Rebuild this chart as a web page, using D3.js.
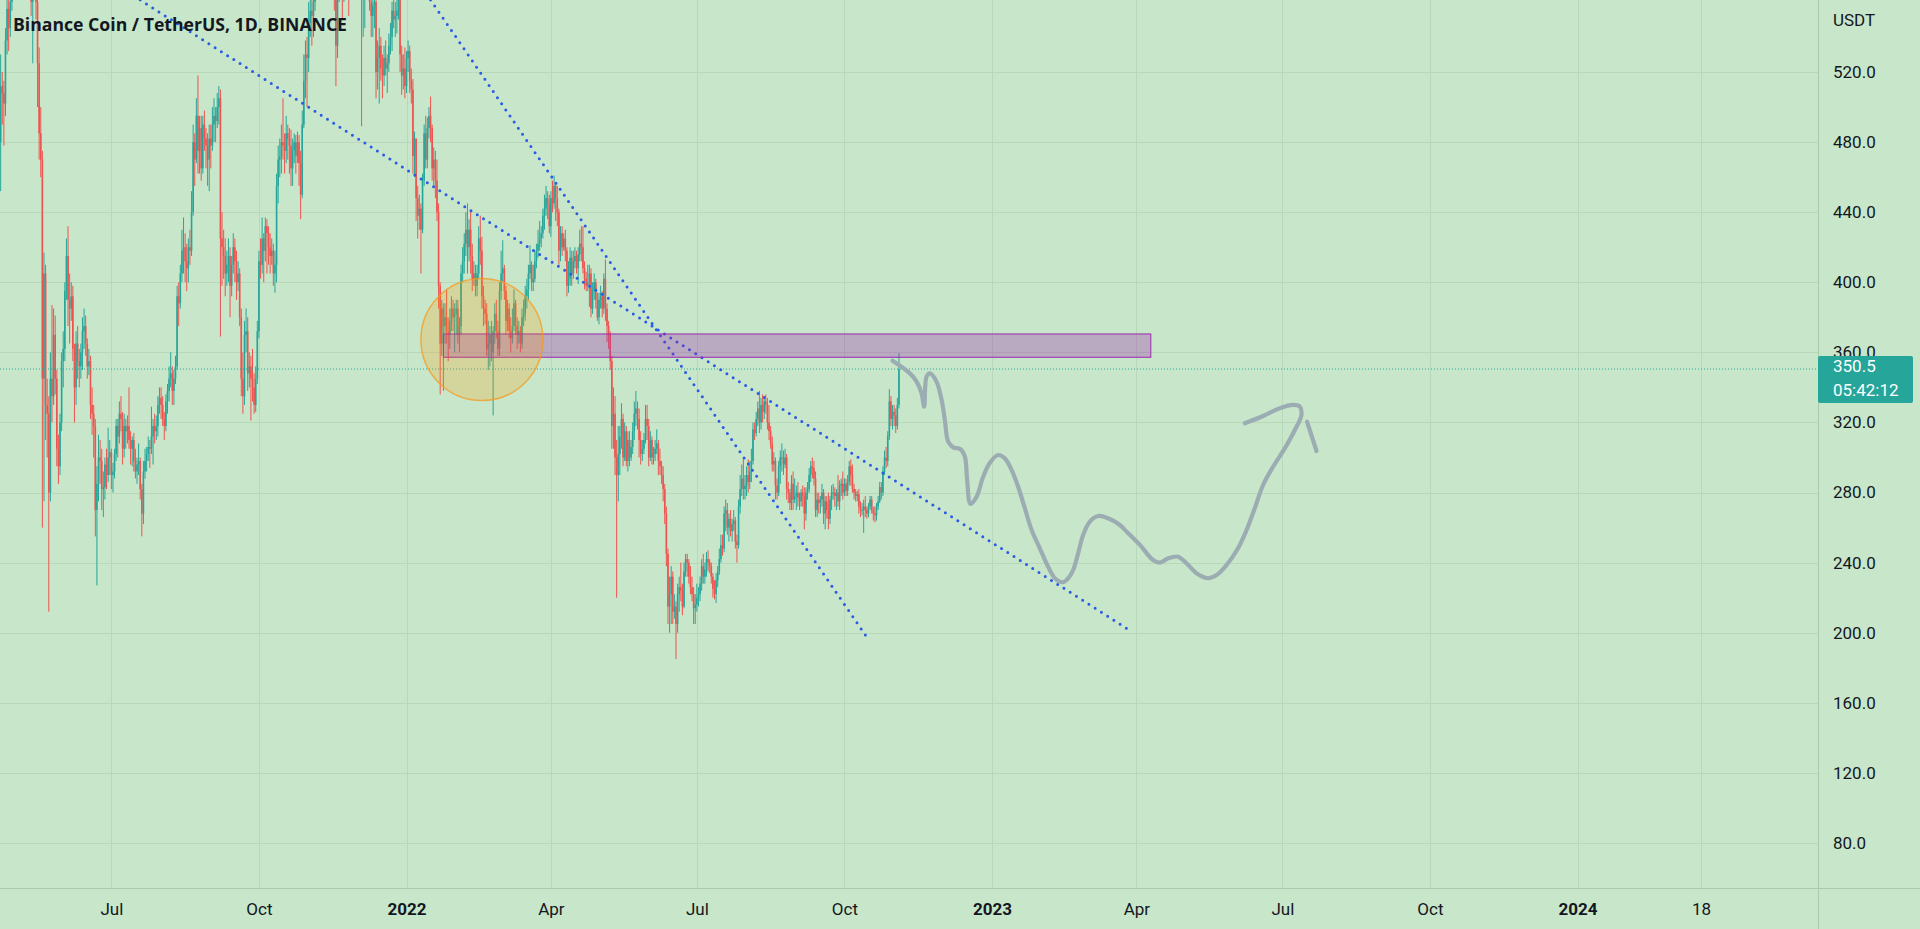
<!DOCTYPE html>
<html>
<head>
<meta charset="utf-8">
<script src="https://cdn.jsdelivr.net/npm/d3@7"></script>
<style>
html, body { margin: 0; padding: 0; background: #c8e6c9; overflow: hidden; }
svg { display: block; }
text { font-family: Roboto, "Noto Sans", sans-serif; }
</style>
</head>
<body>
<script>
// BNB/USDT daily candles, open = previous close
var firstDay = "2021-04-23";
var firstOpen = 480;
var closes = [
  512,508,502,538,556,545,560,602,
  612,598,660,615,655,640,650,668,660,610,640,560,575,615,560,525,485,470,345,405,330,325,280,345,335,370,345,305,295,320,355,
  362,395,415,390,385,392,362,340,365,355,352,360,372,375,365,352,355,330,325,318,270,285,300,298,282,283,296,290,300,303,
  290,292,302,318,312,325,322,305,318,315,318,310,305,310,298,292,296,298,282,268,292,298,302,306,305,312,318,315,318,330,334,
  330,322,318,332,338,345,348,338,345,352,392,388,405,418,420,412,408,420,418,440,480,470,495,475,488,465,490,482,478,470,482,
  478,490,495,492,500,505,425,420,415,405,410,415,398,410,420,412,400,405,380,345,335,370,372,348,352,345,340,330,345,372,
  412,410,425,418,432,428,420,415,418,405,410,455,470,472,480,478,475,485,482,478,465,475,480,472,480,468,450,490,515,530,528,
  548,555,552,560,600,620,648,640,635,610,625,640,645,648,635,590,572,535,565,590,580,572,590,582,602,575,592,615,628,608,
  620,605,575,565,570,580,585,580,560,552,558,560,520,528,535,522,518,528,522,525,535,540,555,550,552,555,562,530,518,522,512,
  528,532,515,510,472,482,448,438,442,430,458,485,470,488,495,488,465,470,458,440,398,365,385,375,380,372,370,378,385,380,382,
  385,370,375,405,412,422,430,420,430,415,402,405,398,405,425,418,392,385,382,362,365,370,360,372,382,372,362,395,
  405,408,395,378,385,372,368,375,388,375,370,372,365,380,382,392,396,405,410,400,402,412,418,422,425,428,438,442,448,445,432,
  448,445,455,448,440,418,428,420,425,418,398,402,414,405,412,415,408,416,422,420,408,402,398,400,405,385,395,400,390,380,
  390,392,385,402,385,375,370,355,318,325,300,290,302,312,322,300,315,298,310,300,306,315,325,328,322,310,302,305,310,322,318,
  300,310,300,302,305,308,298,295,290,282,268,245,215,222,232,212,215,205,222,226,224,215,235,242,240,232,226,222,214,216,
  220,222,228,238,232,236,242,240,238,232,225,222,230,235,242,250,248,268,270,260,265,258,262,264,252,250,272,282,288,282,284,
  290,286,292,298,316,314,322,328,320,330,326,332,330,320,315,308,296,298,284,280,295,300,300,296,300,282,280,274,285,276,278,
  280,277,275,280,278,268,280,282,290,295,294,288,270,276,274,276,280,268,275,270,265,276,280,280,278,280,275,284,285,280,
  285,281,286,295,290,282,280,278,279,272,270,270,272,270,268,272,276,270,268,267,272,275,283,280,292,300,298,312,332,322,326,
  324,318,330,350.5
];
var highs = [
  530,520,515,545,565,568,575,610,
  625,615,668,665,660,662,660,675,680,692,650,650,600,625,620,580,534,500,475,417,410,345,335,360,387,385,381,350,313,325,360,
  372,400,425,432,405,400,398,365,372,375,362,365,380,385,381,368,362,358,340,330,322,295,313,310,305,292,300,305,317,310,
  305,297,305,322,322,332,335,326,325,322,324,340,315,312,314,305,300,308,300,285,298,305,306,312,310,329,322,325,324,335,340,
  340,335,326,336,342,352,360,352,350,358,398,400,410,430,437,428,422,425,430,452,490,485,505,518,495,495,495,498,488,485,490,
  490,500,505,500,508,512,510,440,430,425,418,425,420,415,428,425,418,412,408,385,360,378,385,380,360,358,362,348,352,378,
  418,425,437,428,437,436,432,428,425,422,418,462,478,482,490,505,485,495,490,488,487,482,485,484,486,484,475,498,530,538,540,
  560,570,565,568,610,628,655,660,650,670,635,648,655,660,655,640,595,580,575,598,598,590,598,598,610,612,605,622,640,635,
  640,625,610,580,580,585,598,592,585,568,565,570,562,538,545,540,530,535,538,530,542,548,560,565,560,562,575,565,535,530,534,
  532,538,535,522,516,486,482,455,450,445,462,490,495,494,500,506,490,477,475,470,445,400,390,388,388,396,380,385,392,390,388,
  390,390,380,410,420,428,440,445,436,441,422,412,410,410,432,438,426,398,390,388,378,375,378,375,388,390,378,400,
  418,424,410,398,390,388,380,385,396,390,380,378,375,385,390,398,402,410,421,412,410,418,422,430,435,432,442,450,455,452,450,
  452,458,461,457,455,442,432,432,428,430,420,412,420,418,418,420,418,420,430,432,432,412,406,410,410,408,400,405,402,394,
  394,398,395,405,413,388,378,372,358,340,335,310,318,318,331,325,320,318,315,315,310,320,332,338,332,328,315,310,314,330,330,
  322,315,312,306,310,316,310,305,298,295,285,272,248,232,238,235,222,218,228,232,240,228,240,245,245,242,238,232,226,222,
  228,226,232,242,245,240,246,247,242,240,234,230,234,238,248,256,256,272,276,274,268,270,265,270,266,256,276,290,296,299,290,
  295,299,298,305,320,320,326,332,338,334,336,335,336,334,330,318,312,303,300,288,298,304,308,304,305,302,286,282,290,292,288,
  284,286,280,282,284,283,283,286,294,298,300,298,292,280,280,278,285,282,278,278,280,278,284,285,283,282,290,287,288,292,
  288,288,290,298,299,296,285,282,281,282,275,274,276,278,272,274,278,278,272,272,274,278,286,286,295,304,306,315,339,335,330,
  330,328,334,359.5
];
var lows = [
  452,490,478,495,530,532,540,555,
  595,585,596,600,605,625,620,640,630,590,590,552,525,570,550,500,470,460,260,275,310,300,212,275,320,330,336,295,285,290,315,
  340,355,390,375,365,378,355,320,330,345,340,345,350,362,358,345,347,322,313,300,255,227,275,285,270,266,276,282,286,290,
  282,280,288,298,300,308,315,296,300,305,308,305,296,295,292,288,285,290,276,255,262,288,292,298,294,302,296,308,310,312,325,
  322,318,310,315,325,332,340,330,330,342,350,375,385,400,405,400,395,400,410,415,438,455,468,462,462,458,462,475,465,455,452,
  465,475,480,480,488,490,369,398,402,392,398,400,380,392,405,400,390,395,375,335,325,330,360,338,340,321,332,325,326,342,
  368,402,405,400,412,405,410,405,410,398,394,400,445,460,462,470,462,468,470,462,455,455,468,462,468,455,436,448,488,505,500,
  520,540,535,540,555,595,615,625,620,590,600,610,630,635,625,575,555,512,528,560,570,550,560,568,575,552,570,580,608,600,
  600,590,565,489,540,545,570,565,555,540,540,545,505,510,502,515,505,512,518,508,520,530,532,545,540,542,550,520,507,510,505,
  508,520,508,502,462,460,435,425,430,405,428,455,465,465,482,480,458,455,448,435,385,336,358,338,365,365,355,362,372,372,360,
  370,365,360,370,400,405,415,405,412,405,395,398,392,392,402,410,385,375,376,358,350,352,355,324,365,368,358,358,
  390,400,390,370,372,368,360,365,372,370,362,365,360,362,375,378,385,390,402,395,395,400,408,414,418,420,425,430,438,436,428,
  426,440,442,435,432,410,412,415,418,412,392,394,398,398,402,408,405,399,412,412,405,396,395,395,386,380,382,390,385,378,
  376,385,380,382,378,366,362,350,305,305,290,220,275,290,305,295,298,295,292,295,298,302,310,318,316,300,296,298,302,308,310,
  295,298,296,296,298,302,290,290,285,275,262,238,205,200,205,205,208,185,200,212,218,210,214,232,232,228,222,218,205,205,
  212,215,218,224,228,228,232,235,234,228,220,219,217,226,233,240,244,246,258,256,252,255,252,258,248,240,248,268,278,276,276,
  278,280,282,286,296,310,312,318,314,316,320,322,325,316,310,305,292,292,276,276,278,285,292,290,294,276,274,270,270,270,274,
  270,272,270,272,272,259,264,276,280,286,288,284,266,266,268,268,272,262,259,265,259,262,270,276,272,270,272,270,278,276,
  278,278,278,284,284,280,276,275,275,268,266,267,257,266,265,266,270,268,264,263,264,270,274,276,278,290,294,295,310,318,316,
  318,314,316,328
];

var priceTicks = [80, 120, 160, 200, 240, 280, 320, 360, 400, 440, 480, 520];
var timeTicks = ["2021-07-01","2021-10-01","2022-01-01","2022-04-01","2022-07-01","2022-10-01",
                 "2023-01-01","2023-04-01","2023-07-01","2023-10-01","2024-01-01","2024-03-18"];
var timeLabels = ["Jul","Oct","2022","Apr","Jul","Oct","2023","Apr","Jul","Oct","2024","18"];
var countdown = "05:42:12";

// drawings (dates / prices)
var zoneDates = ["2022-01-24", "2023-04-10"];
var zonePrices = [357.2, 370.5];
var circleDate = "2022-02-17";
var circlePrice = 367.3;
var trend1Dates = ["2021-07-19", "2023-03-27"];
var trend1Prices = [561.1, 201.9];
var trend2Dates = ["2022-01-16", "2022-10-16"];
var trend2Prices = [561.1, 196.1];
// freehand brush: days after 2022-01-01, price
var brushDays = [303.0,313.8,318.0,321.1,322.7,324.2,326.3,330.4,333.6,335.6,337.7,340.8,345.4,348.1,349.5,351.6,355.4,359.5,363.7,368.8,373.0,377.2,381.3,385.5,389.7,394.8,400.0,404.2,409.0,412.5,415.6,418.7,421.8,426.0,431.2,437.4,444.7,448.9,457.2,465.4,469.6,474.8,481.0,486.3,492.5,499.7,505.0,511.2,518.4,523.7,528.8,534.0,540.2,547.5,553.8,557.9,556.9,552.7,544.4,534.0,522.6];
var brushPrices = [355.2,348.0,343.3,336.6,329.0,346.1,348.0,343.3,332.8,321.4,309.0,305.8,304.7,300.5,287.2,273.5,277.6,289.0,297.0,301.4,299.5,292.9,283.3,271.0,258.6,248.2,237.7,231.1,228.8,231.1,235.8,245.3,255.8,263.4,266.6,265.3,261.5,257.7,250.1,241.5,240.0,242.5,243.4,239.6,233.9,231.1,232.9,238.6,248.2,258.6,271.0,284.3,294.7,305.2,315.7,324.3,329.0,330.0,328.1,323.7,319.5];
var brush2Days = [561.4, 567.3];
var brush2Prices = [320.4, 303.7];

var width = 1920, height = 929;
var plotRight = 1818, plotBottom = 888;
var upColor = "#26a69a", downColor = "#ef5350", textColor = "#131722";

var parse = d3.utcParse("%Y-%m-%d");
var base = parse("2022-01-01");
var dayToDate = function(d) { return new Date(base.getTime() + d * 864e5); };

var x = d3.scaleUtc().domain([base, parse("2023-01-01")]).range([406.5, 992]);
var y = d3.scaleLinear().domain([80, 520]).range([843, 72]);

var start = parse(firstDay);
var candles = closes.map(function(c, i) {
    var o = i === 0 ? firstOpen : closes[i - 1];
    return {
        date: d3.utcDay.offset(start, i),
        open: o, close: c,
        high: Math.max(highs[i], o, c),
        low: Math.min(lows[i], o, c)
    };
});

var svg = d3.select("body").append("svg").attr("width", width).attr("height", height);
svg.append("rect").attr("width", width).attr("height", height).attr("fill", "#c8e6c9");
svg.append("clipPath").attr("id", "plot").append("rect")
    .attr("width", plotRight).attr("height", plotBottom);

// grid
var grid = svg.append("g").attr("stroke", "#b8d8b9").attr("stroke-width", 1).attr("shape-rendering", "crispEdges");
grid.selectAll("line.h").data(priceTicks).enter().append("line")
    .attr("x1", 0).attr("x2", plotRight)
    .attr("y1", function(d) { return Math.round(y(d)) + 0.5; })
    .attr("y2", function(d) { return Math.round(y(d)) + 0.5; });
grid.selectAll("line.v").data(timeTicks).enter().append("line")
    .attr("y1", 0).attr("y2", plotBottom)
    .attr("x1", function(d) { return Math.round(x(parse(d))) + 0.5; })
    .attr("x2", function(d) { return Math.round(x(parse(d))) + 0.5; });

var plot = svg.append("g").attr("clip-path", "url(#plot)");

// candles
var cg = plot.append("g");
cg.selectAll("rect.wick").data(candles).enter().append("rect")
    .attr("x", function(d) { return x(d.date) - 0.5; })
    .attr("width", 1)
    .attr("y", function(d) { return y(d.high); })
    .attr("height", function(d) { return Math.max(1, y(d.low) - y(d.high)); })
    .attr("fill", function(d) { return d.close >= d.open ? upColor : downColor; });
cg.selectAll("rect.body").data(candles).enter().append("rect")
    .attr("x", function(d) { return x(d.date) - 0.8; })
    .attr("width", 1.6)
    .attr("y", function(d) { return y(Math.max(d.open, d.close)); })
    .attr("height", function(d) { return Math.max(1, Math.abs(y(d.open) - y(d.close))); })
    .attr("fill", function(d) { return d.close >= d.open ? upColor : downColor; });

// last price line
var last = candles[candles.length - 1].close;
plot.append("line")
    .attr("x1", 0).attr("x2", plotRight)
    .attr("y1", y(last)).attr("y2", y(last))
    .attr("stroke", upColor).attr("stroke-width", 1).attr("stroke-dasharray", "1 2");

// trend lines (dotted)
[[trend1Dates, trend1Prices], [trend2Dates, trend2Prices]].forEach(function(t) {
    plot.append("line")
        .attr("x1", x(parse(t[0][0]))).attr("y1", y(t[1][0]))
        .attr("x2", x(parse(t[0][1]))).attr("y2", y(t[1][1]))
        .attr("stroke", "#2a5be6").attr("stroke-width", 3)
        .attr("stroke-linecap", "round").attr("stroke-dasharray", "0 7.4");
});

// zone rectangle
plot.append("rect")
    .attr("x", x(parse(zoneDates[0])))
    .attr("width", x(parse(zoneDates[1])) - x(parse(zoneDates[0])))
    .attr("y", y(zonePrices[1]))
    .attr("height", y(zonePrices[0]) - y(zonePrices[1]))
    .attr("fill", "rgba(156,39,176,0.32)")
    .attr("stroke", "#9c27b0").attr("stroke-width", 1);

// circle
plot.append("circle")
    .attr("cx", x(parse(circleDate))).attr("cy", y(circlePrice)).attr("r", 61)
    .attr("fill", "rgba(255,152,0,0.22)")
    .attr("stroke", "rgba(245,155,30,0.75)").attr("stroke-width", 1.5);

// freehand brush
var brushLine = d3.line()
    .x(function(d) { return x(dayToDate(d[0])); })
    .y(function(d) { return y(d[1]); })
    .curve(d3.curveCatmullRom.alpha(0.5));
[[brushDays, brushPrices], [brush2Days, brush2Prices]].forEach(function(b) {
    plot.append("path")
        .attr("d", brushLine(b[0].map(function(d, i) { return [d, b[1][i]]; })))
        .attr("fill", "none").attr("stroke", "#9badb3").attr("stroke-width", 4.2)
        .attr("stroke-linecap", "round").attr("stroke-linejoin", "round");
});

// axis borders
svg.append("line").attr("x1", plotRight + 0.5).attr("x2", plotRight + 0.5).attr("y1", 0).attr("y2", height)
    .attr("stroke", "#a9caab").attr("stroke-width", 1);
svg.append("line").attr("x1", 0).attr("x2", width).attr("y1", plotBottom + 0.5).attr("y2", plotBottom + 0.5)
    .attr("stroke", "#a9caab").attr("stroke-width", 1);

// price axis
var yAxis = svg.append("g").attr("transform", "translate(" + plotRight + ",0)")
    .call(d3.axisRight(y).tickValues(priceTicks).tickFormat(d3.format(".1f")).tickSize(0).tickPadding(15));
yAxis.select(".domain").remove();
yAxis.selectAll("text").attr("fill", textColor).style("font-size", "17px").style("font-family", "Roboto");
svg.append("text").attr("x", 1833).attr("y", 26).text("USDT")
    .attr("fill", textColor).style("font-size", "17px");

// time axis
var xAxis = svg.append("g").attr("transform", "translate(0," + plotBottom + ")")
    .call(d3.axisBottom(x).tickValues(timeTicks.map(parse))
        .tickFormat(function(d, i) { return timeLabels[i]; }).tickSize(0).tickPadding(15));
xAxis.select(".domain").remove();
xAxis.selectAll("text").attr("fill", textColor).style("font-size", "17px").style("font-family", "Roboto")
    .style("font-weight", function(d, i) { return /^\d{4}$/.test(timeLabels[i]) ? 700 : 400; });

// last price label
var ly = y(last);
svg.append("rect").attr("x", plotRight).attr("y", ly - 13).attr("width", 95).attr("height", 47)
    .attr("rx", 2).attr("fill", upColor);
svg.append("text").attr("x", 1833).attr("y", ly + 3).text(d3.format(".1f")(last))
    .attr("fill", "#ffffff").style("font-size", "17px");
svg.append("text").attr("x", 1833).attr("y", ly + 27).text(countdown)
    .attr("fill", "#ffffff").style("font-size", "17px");

// title
svg.append("text").attr("x", 13).attr("y", 31)
    .text("Binance Coin / TetherUS, 1D, BINANCE")
    .attr("fill", textColor)
    .attr("textLength", 334).attr("lengthAdjust", "spacingAndGlyphs")
    .style("font-family", "'Open Sans', 'Noto Sans', sans-serif")
    .style("font-size", "17px").style("font-weight", 700);
</script>
</body>
</html>
